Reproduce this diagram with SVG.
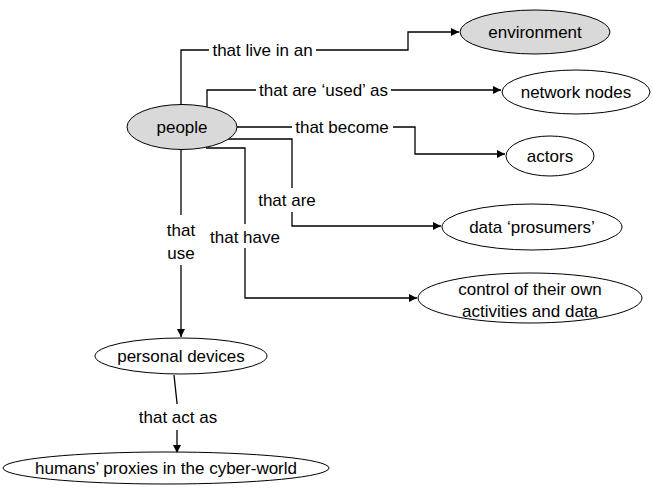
<svg xmlns="http://www.w3.org/2000/svg" width="653" height="497" viewBox="0 0 653 497">
<style>
text{font-family:"Liberation Sans",Arial,sans-serif;font-size:17px;fill:#000;text-anchor:middle;dominant-baseline:central}
ellipse{stroke:#000;stroke-width:1}
.g{fill:#d9d9d9}.w{fill:#fff}
.c path{fill:none;stroke:#000;stroke-width:1.3}
.lb{fill:#fff;stroke:none}
</style>
<defs>
<marker id="ah" viewBox="0 0 10 10" refX="10" refY="5" markerWidth="8" markerHeight="8" markerUnits="userSpaceOnUse" orient="auto">
<path d="M0,0 L10,5 L0,10 z" fill="#000"/>
</marker>
</defs>
<rect width="653" height="497" fill="#fff"/>
<g class="c" id="connectors">
<path d="M181,105 V50 H408 V32 H459" marker-end="url(#ah)"/>
<path d="M207,108 V90 H501" marker-end="url(#ah)"/>
<path d="M237,127 H415 V154 H505" marker-end="url(#ah)"/>
<path d="M225,139 H292 V226 H441" marker-end="url(#ah)"/>
<path d="M206,148 H245 V298 H417" marker-end="url(#ah)"/>
<path d="M181,149 V337" marker-end="url(#ah)"/>
<path d="M174,375 L177,403 V453" marker-end="url(#ah)"/>
<rect class="lb" x="209" y="40" width="107" height="20"/>
<text x="262.5" y="50">that live in an</text>
<rect class="lb" x="256" y="80" width="135" height="20"/>
<text x="323.5" y="90">that are ‘used’ as</text>
<rect class="lb" x="292" y="117" width="101" height="20"/>
<text x="342" y="127">that become</text>
<rect class="lb" x="255" y="188" width="64" height="24"/>
<text x="287" y="200">that are</text>
<rect class="lb" x="207" y="224" width="76" height="24"/>
<text x="245" y="237">that have</text>
<rect class="lb" x="163" y="215" width="36" height="50"/>
<text x="181" y="230">that</text>
<text x="181" y="253">use</text>
<rect class="lb" x="132" y="404" width="92" height="26"/>
<text x="178" y="417">that act as</text>
</g>
<g id="people"><ellipse class="g" cx="182" cy="127" rx="55" ry="22.5"/><text x="182" y="127">people</text></g>
<g id="environment"><ellipse class="g" cx="535" cy="32" rx="75" ry="22"/><text x="535" y="32">environment</text></g>
<g id="network-nodes"><ellipse class="w" cx="576" cy="92" rx="74" ry="22"/><text x="576" y="92">network nodes</text></g>
<g id="actors"><ellipse class="w" cx="550" cy="156" rx="44" ry="20"/><text x="550" y="156">actors</text></g>
<g id="data-prosumers"><ellipse class="w" cx="532" cy="227" rx="90" ry="23"/><text x="532" y="227">data ‘prosumers’</text></g>
<g id="control"><ellipse class="w" cx="530" cy="298" rx="112" ry="25"/><text x="530" y="289">control of their own</text><text x="530" y="311">activities and data</text></g>
<g id="personal-devices"><ellipse class="w" cx="181" cy="356" rx="86" ry="18"/><text x="181" y="356">personal devices</text></g>
<g id="humans-proxies"><ellipse class="w" cx="166" cy="468" rx="163" ry="16"/><text x="166" y="468">humans’ proxies in the cyber-world</text></g>
</svg>
